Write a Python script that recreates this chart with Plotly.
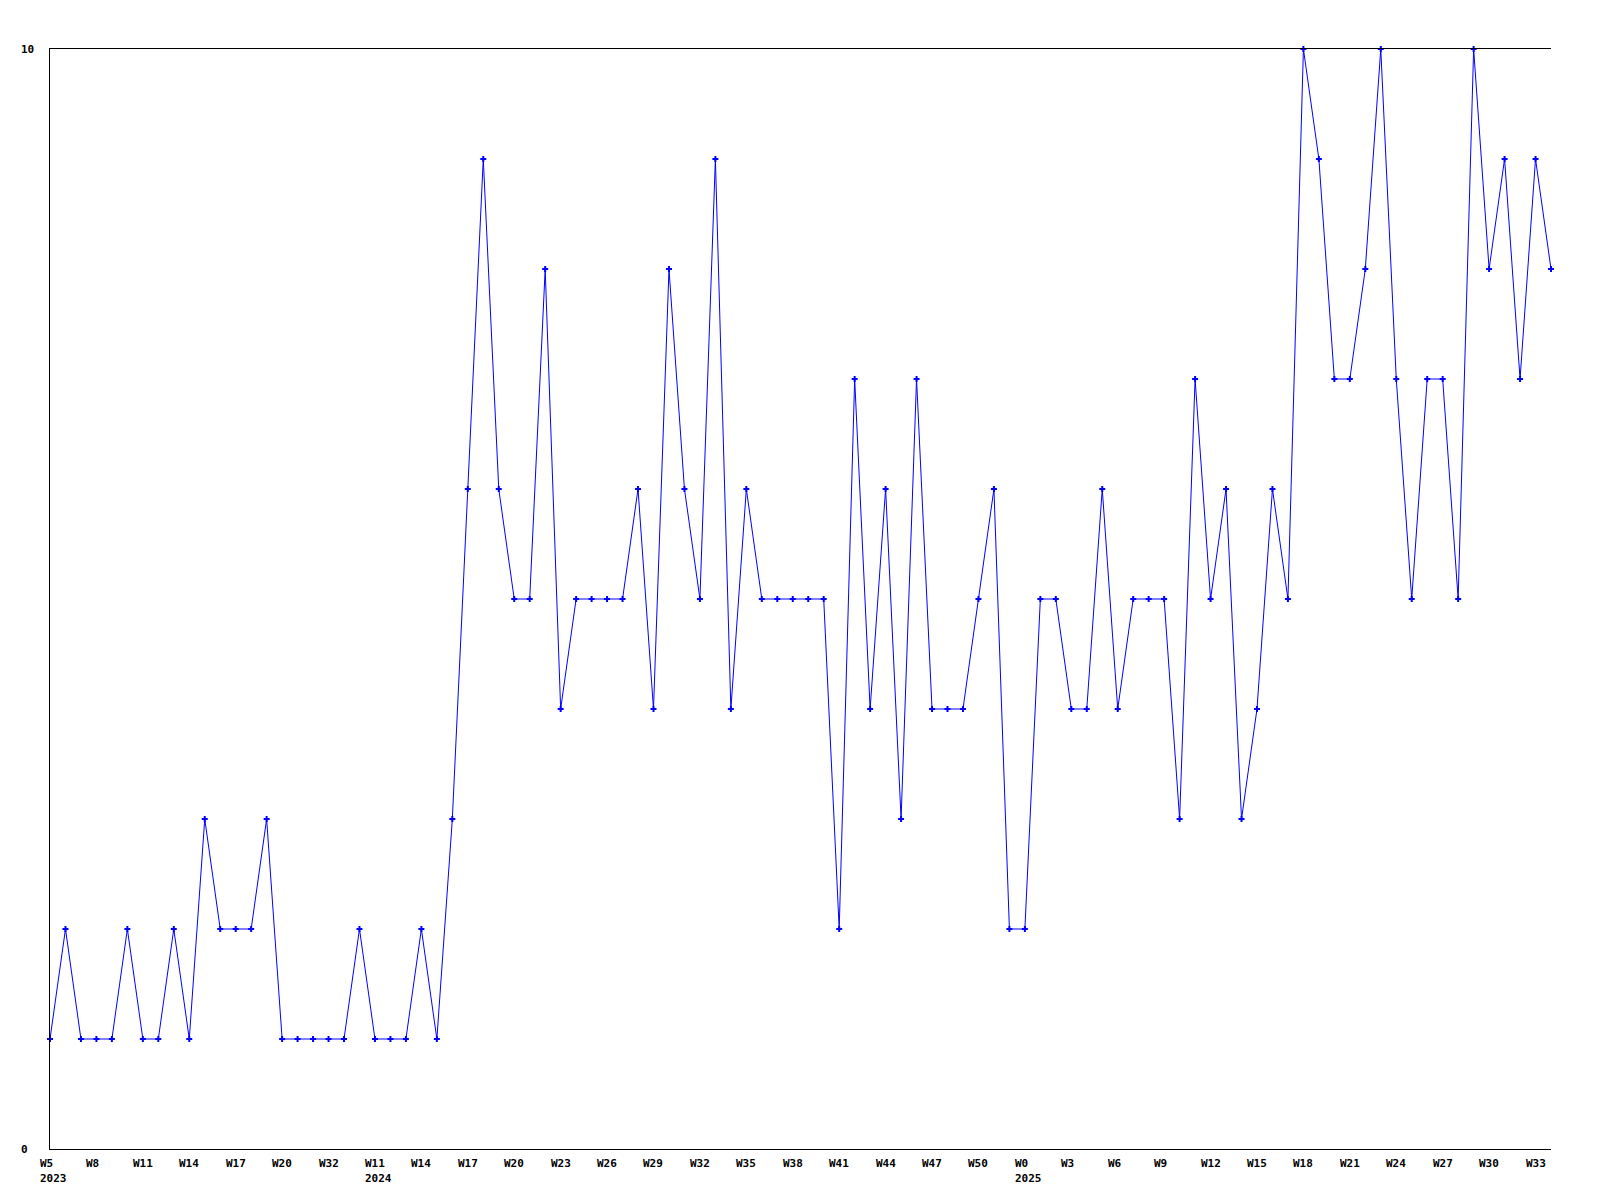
import plotly.graph_objects as go

values = [1, 2, 1, 1, 1, 2, 1, 1, 2, 1,
          3, 2, 2, 2, 3, 1, 1, 1, 1, 1,
          2, 1, 1, 1, 2, 1, 3, 6, 9, 6,
          5, 5, 8, 4, 5, 5, 5, 5, 6, 4,
          8, 6, 5, 9, 4, 6, 5, 5, 5, 5,
          5, 2, 7, 4, 6, 3, 7, 4, 4, 4,
          5, 6, 2, 2, 5, 5, 4, 4, 6, 4,
          5, 5, 5, 3, 7, 5, 6, 3, 4, 6,
          5, 10, 9, 7, 7, 8, 10, 7, 5, 7,
          7, 5, 10, 8, 9, 7, 9, 8]

tick_labels = ["W5", "W8", "W11", "W14", "W17", "W20", "W32",
               "W11", "W14", "W17", "W20", "W23", "W26", "W29", "W32",
               "W35", "W38", "W41", "W44", "W47", "W50",
               "W0", "W3", "W6", "W9", "W12", "W15", "W18", "W21",
               "W24", "W27", "W30", "W33"]
tick_positions = list(range(0, 3 * len(tick_labels), 3))

year_labels = ["2023", "2024", "2025"]
year_positions = [0, 21, 63]

y_labels = ["0", "10"]
y_label_values = [0, 10]

x = list(range(len(values)))
font = dict(family="DejaVu Sans Mono", size=11, color="black", weight="bold")

fig = go.Figure()
fig.add_trace(go.Scatter(
    x=x, y=values, mode="lines+markers",
    line=dict(color="#0000ff", width=1),
    marker=dict(symbol="cross", size=5, color="#0000ff", line=dict(width=0)),
    cliponaxis=False, showlegend=False, hoverinfo="skip",
))

annotations = []
for lbl, pos in zip(tick_labels, tick_positions):
    annotations.append(dict(x=pos, y=0, xref="x", yref="paper", text=lbl,
                            showarrow=False, xanchor="left", yanchor="top",
                            xshift=-12, yshift=-6, font=font))
for lbl, pos in zip(year_labels, year_positions):
    annotations.append(dict(x=pos, y=0, xref="x", yref="paper", text=lbl,
                            showarrow=False, xanchor="left", yanchor="top",
                            xshift=-12, yshift=-21, font=font))
for lbl, val in zip(y_labels, y_label_values):
    annotations.append(dict(x=0, y=val, xref="paper", yref="y", text=lbl,
                            showarrow=False, xanchor="left", yanchor="middle",
                            xshift=-31, font=font))

fig.update_layout(
    width=1584, height=1184,
    margin=dict(l=42, r=41, t=41, b=43),
    paper_bgcolor="white", plot_bgcolor="white",
    annotations=annotations,
    xaxis=dict(range=[0, len(values) - 1], showgrid=False, zeroline=False,
               showline=True, linecolor="black", linewidth=1, mirror=True,
               tickvals=tick_positions, showticklabels=False, ticks=""),
    yaxis=dict(range=[0, 10], showgrid=False, zeroline=False,
               showline=True, linecolor="black", linewidth=1,
               tickvals=y_label_values, showticklabels=False, ticks=""),
)

fig.write_html("out.html")
